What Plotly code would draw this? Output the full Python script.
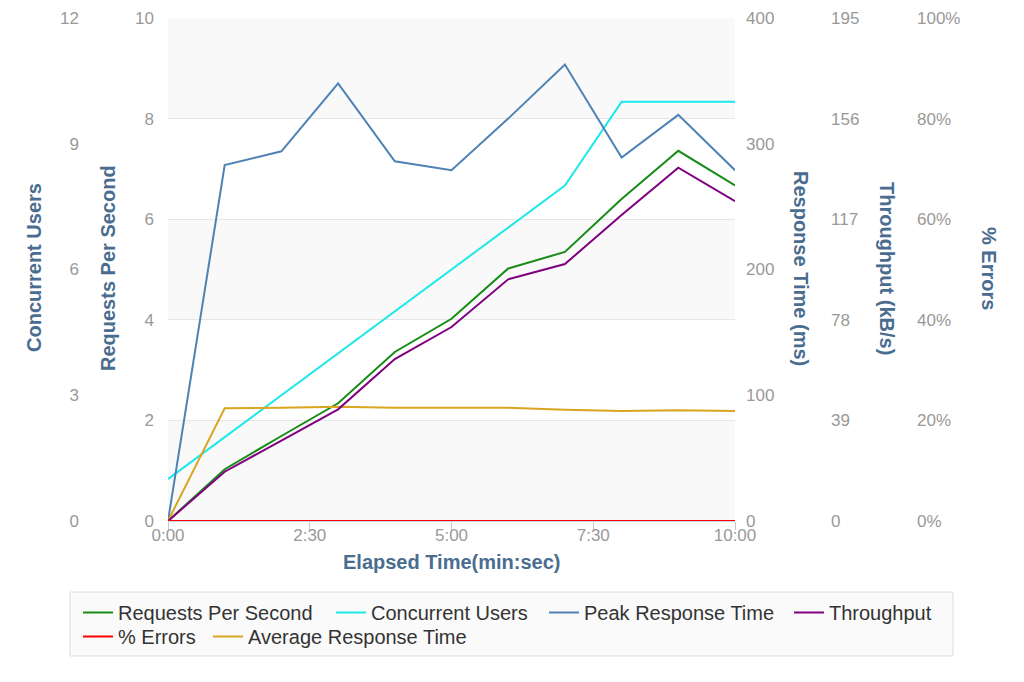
import plotly.graph_objects as go

# page body has an 8px margin, so the figure is drawn 8px in from the window corner
OFF = 8
W, H = 1024 - OFF, 682 - OFF

# ---- data ----
elapsed_sec = [0, 60, 120, 180, 240, 300, 360, 420, 480, 540, 600]
requests_per_second = [0, 1.03, 1.69, 2.34, 3.36, 4.02, 5.02, 5.35, 6.4, 7.36, 6.67]
concurrent_users = [1, 2, 3, 4, 5, 6, 7, 8, 10, 10, 10]
peak_response_ms = [0, 283, 294, 348, 286, 279, 320, 363, 289, 323, 279]
throughput_kbs = [0, 19.1, 31.2, 43.3, 62.8, 75.2, 93.7, 99.6, 118.6, 137.0, 124.0]
errors_pct = [0, 0, 0, 0, 0, 0, 0, 0, 0, 0, 0]
avg_response_ms = [0, 89.6, 90.0, 90.9, 90.0, 90.0, 90.0, 88.5, 87.5, 88.0, 87.5]

x_tickvals = [0, 150, 300, 450, 600]
x_ticktext = ["0:00", "2:30", "5:00", "7:30", "10:00"]
rps_ticks = [0, 2, 4, 6, 8, 10]
cu_ticks = [0, 3, 6, 9, 12]
rt_ticks = [0, 100, 200, 300, 400]
tp_ticks = [0, 39, 78, 117, 156, 195]
err_ticks = [0, 20, 40, 60, 80, 100]
err_ticktext = [f"{v}%" for v in err_ticks]

# ---- geometry helpers (screen pixel -> paper fraction) ----
PL, PR, PT, PB = 168, 735, 18, 521
def px(x):
    return (x - OFF) / W
def py(y):
    return 1 - (y - OFF) / H

FONT = "Liberation Sans, Arial, sans-serif"
TICK_COLOR = "#999999"
TITLE_COLOR = "#4a6d8f"
TICK_FONT = dict(family=FONT, size=17, color=TICK_COLOR)
LEG_FONT = dict(family=FONT, size=20, color="#333333")

fig = go.Figure()

# legend placement: (legend id, symbol-line start x, row center y) in screen px
legend_slots = {
    "legend": (83, 613),
    "legend2": (336, 613),
    "legend3": (549, 613),
    "legend4": (794, 613),
    "legend5": (83, 637),
    "legend6": (213, 637),
}

def add(y, name, color, axis, leg):
    fig.add_trace(go.Scatter(
        x=elapsed_sec, y=y, name=name, yaxis=axis, mode="lines",
        line=dict(color=color, width=2), legend=leg,
    ))

add(requests_per_second, "Requests Per Second", "#168c16", "y", "legend")
add(concurrent_users, "Concurrent Users", "#1ee8e8", "y2", "legend2")
add(peak_response_ms, "Peak Response Time", "#4f82b4", "y3", "legend3")
add(throughput_kbs, "Throughput", "#800080", "y4", "legend4")
add(errors_pct, "% Errors", "#ff0000", "y5", "legend5")
add(avg_response_ms, "Average Response Time", "#daa520", "y3", "legend6")

# alternating bands
for lo in [0, 4, 8]:
    fig.add_shape(type="rect", xref="x domain", yref="y", x0=0, x1=1, y0=lo, y1=lo + 2,
                  fillcolor="#f9f9f9", line_width=0, layer="below")

# legend box
fig.add_shape(type="rect", xref="paper", yref="paper", x0=px(70), x1=px(953),
              y0=py(656), y1=py(592), fillcolor="#fafafa",
              line=dict(color="#dddddd", width=1), layer="below")

dom_y = [py(PB), py(PT)]

def yax(rng, ticks, side, pos, text=None, grid=False, overlay=True):
    d = dict(
        range=rng, tickvals=ticks, tickfont=TICK_FONT, side=side,
        showgrid=grid, gridcolor="#e6e6e6", gridwidth=1, zeroline=False,
        showline=False, ticks="", domain=dom_y, fixedrange=True,
        anchor="free", position=pos, automargin=False,
    )
    if text is not None:
        d["ticktext"] = text
    if overlay:
        d["overlaying"] = "y"
    return d

layout_legends = {}
for lid, (lx, ly) in legend_slots.items():
    layout_legends[lid] = dict(
        orientation="h", x=px(lx - 5), y=py(ly - 20), xanchor="left", yanchor="top",
        bgcolor="rgba(0,0,0,0)", borderwidth=0, font=LEG_FONT,
    )

fig.update_layout(
    width=W, height=H,
    margin=dict(l=0, r=0, t=0, b=0, autoexpand=False),
    paper_bgcolor="white", plot_bgcolor="white",
    showlegend=True,
    xaxis=dict(
        domain=[px(PL), px(PR)], range=[0, 600], tickvals=x_tickvals, ticktext=x_ticktext,
        tickfont=TICK_FONT, ticks="outside", ticklen=8, tickcolor="#c8c8c8",
        showgrid=False, zeroline=False, showline=True, linecolor="#ccd6eb",
        anchor="y", fixedrange=True, automargin=False, ticklabelstandoff=-9,
    ),
    yaxis=yax([0, 10], rps_ticks, "left", px(154), grid=True, overlay=False),
    yaxis2=yax([0, 12], cu_ticks, "left", px(79)),
    yaxis3=yax([0, 400], rt_ticks, "right", px(745)),
    yaxis4=yax([0, 195], tp_ticks, "right", px(830)),
    yaxis5=yax([0, 100], err_ticks, "right", px(916), text=err_ticktext),
    **layout_legends,
)

titles = [
    ("Concurrent Users", 34, 268, -90),
    ("Requests Per Second", 108, 268, -90),
    ("Response Time (ms)", 801, 268, 90),
    ("Throughput (kB/s)", 887, 268, 90),
    ("% Errors", 989, 268, 90),
    ("Elapsed Time(min:sec)", 451, 562, 0),
]
for t, x, y, ang in titles:
    fig.add_annotation(
        text="<b>" + t + "</b>", x=px(x), y=py(y), xref="paper", yref="paper",
        showarrow=False, textangle=ang, xanchor="center", yanchor="middle",
        font=dict(family=FONT, size=20, color=TITLE_COLOR),
    )

fig.write_html("out.html")
